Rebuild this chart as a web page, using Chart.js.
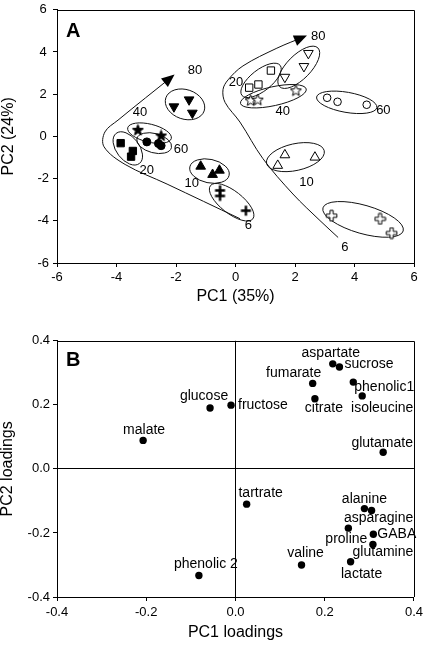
<!DOCTYPE html>
<html><head><meta charset="utf-8">
<script src="https://cdn.jsdelivr.net/npm/chart.js@4.4.1/dist/chart.umd.min.js"></script>
<style>
html,body{margin:0;padding:0;background:#fff;width:427px;height:645px;overflow:hidden;position:relative;}
#ca{position:absolute;left:0;top:-2px;}
#cb{position:absolute;left:0;top:330px;}
</style></head><body>
<canvas id="ca" width="427" height="312"></canvas>
<canvas id="cb" width="427" height="315"></canvas>
<script>
// ---------------- Panel A data (PC scores) ----------------
const f80X = [-2.07, -1.56, -1.45], f80Y = [1.41, 1.74, 1.11];
const f40X = [-3.28, -2.50],        f40Y = [0.29, 0.02];
const f60X = [-2.98, -2.59, -2.50], f60Y = [-0.26, -0.34, -0.44];
const f20X = [-3.86, -3.45, -3.51], f20Y = [-0.32, -0.69, -0.96];
const f10X = [-1.17, -0.77, -0.54], f10Y = [-1.42, -1.81, -1.61];
const f6X  = [-0.52, -0.52, 0.35],  f6Y  = [-2.56, -2.82, -3.52];
const o80X = [2.45, 2.30, 1.66],    o80Y = [3.94, 3.32, 2.81];
const o20X = [1.19, 0.77, 0.46],    o20Y = [3.12, 2.46, 2.31];
const o40X = [2.03, 0.51, 0.75],    o40Y = [2.16, 1.69, 1.72];
const o60X = [3.08, 3.43, 4.41],    o60Y = [1.83, 1.64, 1.50];
const o10X = [1.66, 2.67, 1.42],    o10Y = [-0.88, -0.99, -1.38];
const o6X  = [3.23, 4.86, 5.25],    o6Y  = [-3.76, -3.91, -4.58];

// group labels (text and anchor in data units)
const groupLabelText = ['80','40','60','20','10','6','80','20','40','60','10','6'];
const groupLabelX = [-1.36, -3.21, -1.83, -2.98, -1.47, 0.43, 2.78, 0.02, 1.59, 4.97, 2.39, 3.68];
const groupLabelY = [3.14, 1.14, -0.64, -1.62, -2.23, -4.22, 4.72, 2.54, 1.18, 1.22, -2.20, -5.24];

// trajectory arrows (way points in data units)
const leftPathX = [0.15, -2.30, -3.71, -4.42, -4.39, -3.95, -2.10];
const leftPathY = [-3.90, -2.26, -1.33, -0.49, 0.21, 0.77, 2.87];
const rightPathX = [3.45, 2.84, 1.93, 0.92, 0.15, -0.35, -0.42, -0.25, 0.25, 1.39, 2.34];
const rightPathY = [-4.79, -3.99, -2.73, -1.05, 0.68, 1.61, 2.22, 2.68, 3.34, 4.18, 4.74];

// axis ticks
const scoreTicks = [-6, -4, -2, 0, 2, 4, 6];
const loadTicks = [-0.4, -0.2, 0.0, 0.2, 0.4];

// ---------------- Panel B data (loadings) ----------------
const metabolites = ['malate','glucose','fructose','fumarate','citrate','aspartate','sucrose','phenolic1','isoleucine','glutamate','tartrate','alanine','asparagine','proline','GABA','glutamine','lactate','valine','phenolic 2'];
const pc1Load = [-0.207, -0.057, -0.010, 0.173, 0.178, 0.218, 0.233, 0.264, 0.284, 0.331, 0.025, 0.289, 0.305, 0.253, 0.309, 0.308, 0.258, 0.148, -0.082];
const pc2Load = [0.089, 0.190, 0.199, 0.267, 0.219, 0.328, 0.318, 0.271, 0.228, 0.052, -0.110, -0.124, -0.130, -0.185, -0.204, -0.236, -0.290, -0.300, -0.333];
// label placement (pixel offsets from the point) - layout only
const labDx = [1, -6, 7, -19, 9, -2, 5, 1, 20, -1, 14, 0, 7, -2, 4, 10, 11, 4, 7];
const labDy = [-10, -12, 0, -10, 9, -11, -3, 5, 12, -9, -11, -9, 8, 11, 0, 8, 12, -12, -11];
const labAl = ['center','center','left','center','center','center','left','left','center','center','center','center','center','center','left','center','center','center','center'];

// ---------------- helpers ----------------
const FONT = '"Liberation Sans", Arial, Helvetica, sans-serif';
Chart.defaults.font.family = FONT;
Chart.defaults.color = '#000';

function pts(xs, ys) { return xs.map((v, i) => ({x: v, y: ys[i]})); }

function markCanvas(kind, filled) {
  const c = document.createElement('canvas');
  c.width = 13; c.height = 13;
  const g = c.getContext('2d');
  const cx = 6.5, cy = 6.5;
  g.lineWidth = 1; g.strokeStyle = '#000'; g.fillStyle = filled ? '#000' : '#fff';
  if (kind === 'star') {
    g.beginPath();
    for (let i = 0; i < 10; i++) {
      const r = i % 2 === 0 ? 5.8 : 2.5;
      const a = -Math.PI / 2 + i * Math.PI / 5;
      const px = cx + r * Math.cos(a), py = cy + r * Math.sin(a);
      if (i === 0) g.moveTo(px, py); else g.lineTo(px, py);
    }
    g.closePath(); g.fill(); g.stroke();
  } else if (kind === 'cross') {
    if (filled) {
      g.lineWidth = 2.4;
      g.beginPath(); g.moveTo(cx - 5, cy); g.lineTo(cx + 5, cy);
      g.moveTo(cx, cy - 5); g.lineTo(cx, cy + 5); g.stroke();
    } else {
      const w = 1.6, L = 5.3;
      g.beginPath();
      g.moveTo(cx - w, cy - L); g.lineTo(cx + w, cy - L); g.lineTo(cx + w, cy - w);
      g.lineTo(cx + L, cy - w); g.lineTo(cx + L, cy + w); g.lineTo(cx + w, cy + w);
      g.lineTo(cx + w, cy + L); g.lineTo(cx - w, cy + L); g.lineTo(cx - w, cy + w);
      g.lineTo(cx - L, cy + w); g.lineTo(cx - L, cy - w); g.lineTo(cx - w, cy - w);
      g.closePath(); g.fill(); g.stroke();
    }
  }
  return c;
}

function grp(xs, ys, style, filled, extra) {
  return Object.assign({
    type: 'scatter', isGroup: true, data: pts(xs, ys), pointStyle: style,
    backgroundColor: filled ? '#000' : '#fff', borderColor: '#000', borderWidth: 1,
    pointRadius: 5, pointHoverRadius: 5, order: 1
  }, extra || {});
}
function pathDs(xs, ys) {
  return { type: 'line', isPath: true, data: pts(xs, ys), borderColor: '#111', borderWidth: 1,
    pointRadius: 0, tension: 0.35, fill: false, order: 10 };
}

// ---------------- Panel A ----------------
const panelAPlugin = {
  id: 'panelA',
  beforeDatasetsDraw(chart) {
    const {ctx, scales: {x, y}} = chart;
    ctx.save(); ctx.strokeStyle = '#111'; ctx.lineWidth = 1;
    chart.data.datasets.forEach(ds => {
      if (!ds.isGroup) return;
      const P = ds.data.map(p => [x.getPixelForValue(p.x), y.getPixelForValue(p.y)]);
      let bi = 0, bj = 1, bd = -1;
      for (let i = 0; i < P.length; i++) for (let j = i + 1; j < P.length; j++) {
        const d = Math.hypot(P[j][0] - P[i][0], P[j][1] - P[i][1]);
        if (d > bd) { bd = d; bi = i; bj = j; }
      }
      const p = P[bi], q = P[bj];
      const L = Math.max(bd, 1e-6);
      const ux = (q[0] - p[0]) / L, uy = (q[1] - p[1]) / L, nx = -uy, ny = ux;
      let smin = 0, smax = 0, tmin = Infinity, tmax = -Infinity;
      P.forEach(pt => {
        const vx = pt[0] - p[0], vy = pt[1] - p[1];
        const s = vx * nx + vy * ny, t = vx * ux + vy * uy;
        smin = Math.min(smin, s); smax = Math.max(smax, s);
        tmin = Math.min(tmin, t); tmax = Math.max(tmax, t);
      });
      const tc = (tmin + tmax) / 2, sc = (smin + smax) / 2;
      const cx = p[0] + ux * tc + nx * sc, cy = p[1] + uy * tc + ny * sc;
      const a = (tmax - tmin) / 2 + 10.5, b = (smax - smin) / 2 + 9;
      ctx.beginPath(); ctx.ellipse(cx, cy, a, b, Math.atan2(uy, ux), 0, Math.PI * 2); ctx.stroke();
    });
    ctx.restore();
  },
  afterDatasetsDraw(chart) {
    const {ctx, scales: {x, y}, chartArea: ca} = chart;
    ctx.save();
    chart.data.datasets.forEach(ds => {
      if (!ds.isPath) return;
      const n = ds.data.length;
      const a = ds.data[n - 2], b = ds.data[n - 1];
      const ax = x.getPixelForValue(a.x), ay = y.getPixelForValue(a.y);
      const bx = x.getPixelForValue(b.x), by = y.getPixelForValue(b.y);
      const ang = Math.atan2(by - ay, bx - ax);
      ctx.save(); ctx.translate(bx, by); ctx.rotate(ang);
      ctx.fillStyle = '#000';
      ctx.beginPath(); ctx.moveTo(2, 0); ctx.lineTo(-11, -5.5); ctx.lineTo(-11, 5.5); ctx.closePath(); ctx.fill();
      ctx.restore();
    });
    ctx.fillStyle = '#000'; ctx.font = '13px ' + FONT; ctx.textAlign = 'center'; ctx.textBaseline = 'middle';
    groupLabelText.forEach((t, i) => ctx.fillText(t, x.getPixelForValue(groupLabelX[i]), y.getPixelForValue(groupLabelY[i])));
    ctx.font = 'bold 20px ' + FONT; ctx.textAlign = 'left'; ctx.textBaseline = 'alphabetic';
    ctx.fillText('A', ca.left + 9, ca.top + 27);
    ctx.strokeStyle = '#000'; ctx.lineWidth = 1;
    ctx.beginPath();
    ctx.moveTo(Math.round(ca.left), Math.round(ca.top) + 0.5); ctx.lineTo(Math.round(ca.right) + 0.5, Math.round(ca.top) + 0.5);
    ctx.lineTo(Math.round(ca.right) + 0.5, Math.round(ca.bottom));
    ctx.stroke();
    ctx.restore();
  }
};

const triR = 5.6;
new Chart(document.getElementById('ca'), {
  type: 'scatter',
  data: { datasets: [
    grp(f80X, f80Y, 'triangle', true, {pointRadius: triR, rotation: 180}),
    grp(f40X, f40Y, markCanvas('star', true), true),
    grp(f60X, f60Y, 'circle', true, {pointRadius: 4}),
    grp(f20X, f20Y, 'rect', true, {pointRadius: 5.2}),
    grp(f10X, f10Y, 'triangle', true, {pointRadius: triR}),
    grp(f6X, f6Y, markCanvas('cross', true), true),
    grp(o80X, o80Y, 'triangle', false, {pointRadius: triR, rotation: 180}),
    grp(o20X, o20Y, 'rect', false, {pointRadius: 5.2}),
    grp(o40X, o40Y, markCanvas('star', false), false),
    grp(o60X, o60Y, 'circle', false, {pointRadius: 3.8}),
    grp(o10X, o10Y, 'triangle', false, {pointRadius: triR}),
    grp(o6X, o6Y, markCanvas('cross', false), false),
    pathDs(leftPathX, leftPathY),
    pathDs(rightPathX, rightPathY)
  ]},
  options: {
    responsive: false, animation: false, devicePixelRatio: 1,
    layout: { padding: { top: 8, right: 13, left: 0, bottom: 0 } },
    plugins: { legend: { display: false }, tooltip: { enabled: false } },
    scales: {
      x: {
        type: 'linear', min: -6, max: 6,
        afterBuildTicks: s => { s.ticks = scoreTicks.map(v => ({value: v})); },
        ticks: { font: { size: 13 }, color: '#000', padding: 3, maxRotation: 0 },
        grid: { drawOnChartArea: false, tickLength: 4, tickColor: '#000', color: '#000' },
        border: { color: '#000', width: 1 },
        title: { display: true, text: 'PC1 (35%)', font: { size: 16, lineHeight: 1 }, color: '#000', padding: { top: 0, bottom: 5 } },
        afterFit: s => { s.height = 47; }
      },
      y: {
        type: 'linear', min: -6, max: 6,
        afterBuildTicks: s => { s.ticks = scoreTicks.map(v => ({value: v})); },
        ticks: { font: { size: 13 }, color: '#000', padding: 4, crossAlign: 'center' },
        grid: { drawOnChartArea: false, tickLength: 4, tickColor: '#000', color: '#000' },
        border: { color: '#000', width: 1 },
        title: { display: true, text: 'PC2 (24%)', font: { size: 16, lineHeight: 1 }, color: '#000', padding: { top: 1, bottom: 0 } },
        afterFit: s => { s.width = 57; }
      }
    }
  },
  plugins: [panelAPlugin]
});

// ---------------- Panel B ----------------
const panelBPlugin = {
  id: 'panelB',
  afterDatasetsDraw(chart) {
    const {ctx, scales: {x, y}, chartArea: ca} = chart;
    ctx.save();
    ctx.fillStyle = '#000'; ctx.font = '14px ' + FONT; ctx.textBaseline = 'middle';
    metabolites.forEach((m, i) => {
      ctx.textAlign = labAl[i];
      ctx.fillText(m, x.getPixelForValue(pc1Load[i]) + labDx[i], y.getPixelForValue(pc2Load[i]) + labDy[i]);
    });
    ctx.font = 'bold 20px ' + FONT; ctx.textAlign = 'left'; ctx.textBaseline = 'alphabetic';
    ctx.fillText('B', ca.left + 9, ca.top + 25);
    ctx.strokeStyle = '#000'; ctx.lineWidth = 1;
    ctx.beginPath();
    ctx.moveTo(Math.round(ca.left), Math.round(ca.top) + 0.5); ctx.lineTo(Math.round(ca.right) + 0.5, Math.round(ca.top) + 0.5);
    ctx.lineTo(Math.round(ca.right) + 0.5, Math.round(ca.bottom));
    ctx.stroke();
    ctx.restore();
  }
};
const zeroColor = c => (c.tick && Math.abs(c.tick.value) < 1e-9) ? '#000' : 'rgba(0,0,0,0)';
new Chart(document.getElementById('cb'), {
  type: 'scatter',
  data: { datasets: [{
    data: pts(pc1Load, pc2Load), pointStyle: 'circle', pointRadius: 3.7, pointHoverRadius: 3.7,
    backgroundColor: '#000', borderColor: '#000', borderWidth: 0
  }]},
  options: {
    responsive: false, animation: false, devicePixelRatio: 1,
    layout: { padding: { top: 8, right: 11, left: 0, bottom: 0 } },
    plugins: { legend: { display: false }, tooltip: { enabled: false } },
    scales: {
      x: {
        type: 'linear', min: -0.4, max: 0.4,
        afterBuildTicks: s => { s.ticks = loadTicks.map(v => ({value: v})); },
        ticks: { font: { size: 13 }, color: '#000', padding: 4, maxRotation: 0, callback: v => Number(v).toFixed(1) },
        grid: { drawOnChartArea: true, tickLength: 4, tickColor: '#000', color: zeroColor },
        border: { color: '#000', width: 1 },
        title: { display: true, text: 'PC1 loadings', font: { size: 16, lineHeight: 1 }, color: '#000', padding: { top: 0, bottom: 4 } },
        afterFit: s => { s.height = 48; }
      },
      y: {
        type: 'linear', min: -0.4, max: 0.4,
        afterBuildTicks: s => { s.ticks = loadTicks.map(v => ({value: v})); },
        ticks: { font: { size: 13 }, color: '#000', padding: 3, callback: v => Number(v).toFixed(1) },
        grid: { drawOnChartArea: true, tickLength: 4, tickColor: '#000', color: zeroColor },
        border: { color: '#000', width: 1 },
        title: { display: true, text: 'PC2 loadings', font: { size: 16, lineHeight: 1 }, color: '#000', padding: { top: 0, bottom: 0 } },
        afterFit: s => { s.width = 57; }
      }
    }
  },
  plugins: [panelBPlugin]
});
</script>
</body></html>
